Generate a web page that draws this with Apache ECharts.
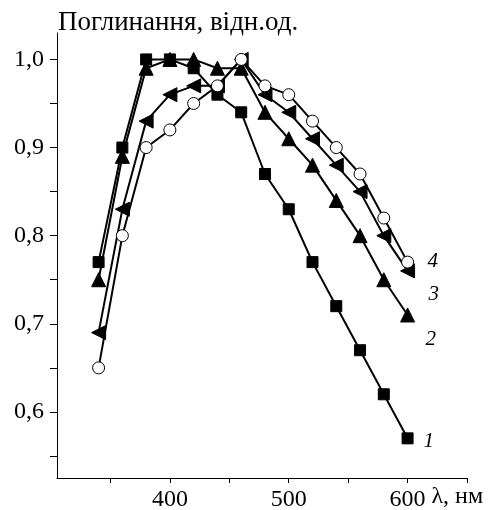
<!DOCTYPE html>
<html><head><meta charset="utf-8">
<script src="https://cdn.jsdelivr.net/npm/echarts@6/dist/echarts.min.js"></script>
<style>html,body{margin:0;padding:0;background:#fff}#c{width:492px;height:510px}</style>
</head><body><div id="c"></div>
<script>
const wavelengths = [340,360,380,400,420,440,460,480,500,520,540,560,580,600];
const series1 = [0.77,0.90,1.00,1.00,0.99,0.96,0.94,0.87,0.83,0.77,0.72,0.67,0.62,0.57];
const series2 = [0.75,0.89,0.99,1.00,1.00,0.99,0.99,0.94,0.91,0.88,0.84,0.80,0.75,0.71];
const series3 = [0.69,0.83,0.93,0.96,0.97,0.97,1.00,0.96,0.94,0.91,0.88,0.85,0.80,0.76];
const series4 = [0.65,0.80,0.90,0.92,0.95,0.97,1.00,0.97,0.96,0.93,0.90,0.87,0.82,0.77];
const seriesNames = ['1','2','3','4'];
const xTicks = [350,400,450,500,550,600,650];
const xLabels = [400,500,600];
const yTicks = [0.55,0.6,0.65,0.7,0.75,0.8,0.85,0.9,0.95,1.0];
const yLabels = [0.6,0.7,0.8,0.9,1.0];

const font = '"Liberation Serif","DejaVu Serif",serif';
const pair = arr => wavelengths.map((x,i)=>[x,arr[i]]);
function mk(name, data, symbol, size, rotate, fill, off){
  return {
    name, type:'line', data:pair(data), symbol, symbolSize:size, symbolRotate:rotate,
    lineStyle:{color:'#000',width:2}, itemStyle:{color:fill,borderColor:'#000',borderWidth:1},
    z: 3,
    endLabel:{show:true,formatter:name,fontFamily:font,fontStyle:'italic',fontSize:21,color:'#000',offset:off},
    animation:false
  };
}
const chart = echarts.init(document.getElementById('c'));
chart.setOption({
  backgroundColor:'#fff',
  animation:false,
  grid:{left:57,top:33,right:25,bottom:32,containLabel:false,outerBoundsMode:'none'},
  xAxis:{type:'value',min:305,max:650,
    axisLine:{lineStyle:{color:'#000',width:1}},
    axisTick:{customValues:xTicks,length:5,lineStyle:{color:'#000'}},
    axisLabel:{customValues:xLabels,fontFamily:font,fontSize:24,color:'#000',margin:10},
    splitLine:{show:false},
    name:'λ, нм',nameLocation:'end',nameGap:-47,
    nameTextStyle:{fontFamily:font,fontSize:24,color:'#000',verticalAlign:'top',padding:[7,0,0,0]}
  },
  yAxis:{type:'value',min:0.525,max:1.03,
    axisLine:{show:true,lineStyle:{color:'#000',width:1}},
    axisTick:{show:true,customValues:yTicks,length:7,lineStyle:{color:'#000'}},
    axisLabel:{customValues:yLabels,fontFamily:font,fontSize:24,color:'#000',margin:13,
      formatter:v=>v.toFixed(1).replace('.',',')},
    splitLine:{show:false},
    name:'Поглинання, відн.од.',nameLocation:'end',nameGap:10,
    nameTextStyle:{fontFamily:font,fontSize:27,color:'#000',align:'left',verticalAlign:'middle',padding:[0,0,0,1]}
  },
  series:[
    mk('1',series1,'rect',11,0,'#000',[8,3]),
    mk('2',series2,'triangle',14,0,'#000',[10,25]),
    mk('3',series3,'triangle',14,90,'#000',[13,24]),
    mk('4',series4,'circle',12,0,'#fff',[12,-1])
  ]
});
</script></body></html>
